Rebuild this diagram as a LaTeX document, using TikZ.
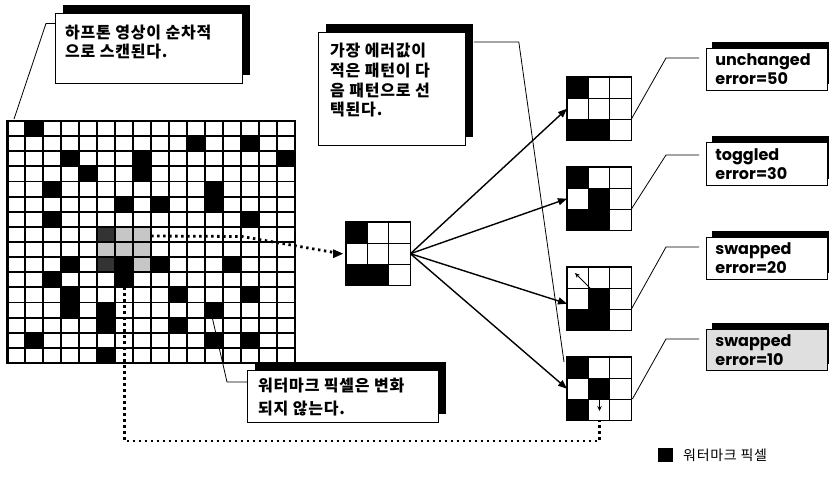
\documentclass[tikz,border=0pt]{standalone}
\usepackage{fontspec}
\usetikzlibrary{arrows.meta,shadows,calc}
\newfontfamily\krfont[LetterSpace=5]{Noto Sans CJK KR}
\newfontfamily\latfont{Poppins}
\newcommand\mygrid[2]{%
  \foreach \r/\c in {#2}{\fill ($(#1.north west)+({(\c-1)*64/3},{(\r-1)*21})$) rectangle ++({64/3},21);}
  \foreach \i in {1,2}{\draw[sgin] ($(#1.north west)+({\i*64/3},0)$) -- ++(0,63);
    \draw[sgin] ($(#1.north west)+(0,{\i*21})$) -- ++(64,0);}
  \draw[sgout] (#1.north west) rectangle (#1.south east);
}
\begin{document}
\begin{tikzpicture}[x=1pt,y=-1pt,
  gridln/.style={line width=1.8pt},
  gridout/.style={line width=2.8pt},
  sgin/.style={line width=0.9pt},
  sgout/.style={line width=1.3pt},
  sgrid/.style={rectangle,minimum width=64pt,minimum height=63pt,inner sep=0pt,anchor=north west},
  dotline/.style={line width=2.8pt,dash pattern=on 2.4pt off 3.6pt},
  fan/.style={line width=1.4pt,-{Triangle[length=9pt,width=7pt]}},
  lead/.style={line width=0.8pt},
  callout/.style={rectangle,draw=black,line width=0.8pt,fill=white,inner sep=0pt,anchor=north west,
    drop shadow={shadow xshift=8pt,shadow yshift=8pt,opacity=1,fill=black}},
  rcallout/.style={rectangle,draw=black,line width=0.8pt,fill=white,inner xsep=9pt,inner ysep=0pt,
    anchor=north west,minimum width=121pt,text width=103pt,align=left,
    font=\latfont\bfseries\fontsize{16}{19}\selectfont,
    drop shadow={shadow xshift=6pt,shadow yshift=6pt,opacity=1,fill=black}},
  krtext/.style={anchor=north west,inner sep=0pt,align=left},
]
\fill[white] (0,0) rectangle (829,477);
\useasboundingbox (0,0) rectangle (829,477);
\def\gx{7.3}\def\gy{121}\def\cw{17.98}\def\rh{15.125}
% highlight
\fill[gray!45] ({\gx+5*\cw},{\gy+7*\rh}) rectangle ({\gx+8*\cw},{\gy+10*\rh});
% black cells
\foreach \r/\c in {1/2,2/11,2/14,3/4,3/8,3/16,4/5,4/8,5/3,5/12,6/7,6/9,6/12,7/3,7/14,
  10/4,10/7,10/9,10/13,11/3,11/7,12/4,12/10,12/14,13/4,13/6,13/12,14/6,14/10,15/2,15/12,15/14,16/6}
  \fill ({\gx+(\c-1)*\cw},{\gy+(\r-1)*\rh}) rectangle ++(\cw,\rh);
\foreach \r/\c in {8/6,10/6}
  \fill[black!80] ({\gx+(\c-1)*\cw},{\gy+(\r-1)*\rh}) rectangle ++(\cw,\rh);
\foreach \i in {1,...,15}{
  \draw[gridln] ({\gx+\i*\cw},\gy) -- ++(0,{16*\rh});
  \draw[gridln] (\gx,{\gy+\i*\rh}) -- ++({16*\cw},0);}
\draw[gridout] (\gx,\gy) rectangle ++({16*\cw},{16*\rh});
\draw[dotline,line width=1.8pt] ({\gx+5*\cw},{\gy+7*\rh}) rectangle ({\gx+8*\cw},{\gy+10*\rh});

% small grids
\node[sgrid] (mg) at (346,222) {};
\node[sgrid] (g1) at (567,77) {};
\node[sgrid] (g2) at (567,167) {};
\node[sgrid] (g3) at (567,267) {};
\node[sgrid] (g4) at (567,357) {};
\mygrid{mg}{1/1,3/1,3/2}
\mygrid{g1}{1/1,3/1,3/2}
\mygrid{g2}{1/1,2/2,3/1,3/2}
\mygrid{g3}{2/2,3/1,3/2}
\mygrid{g4}{1/1,2/2,3/1}

% coordinates
\coordinate (hle) at ({\gx+8*\cw},236);
\coordinate (dbend) at (242,236.5);
\coordinate (wm) at ({\gx+6.5*\cw},{\gy+11*\rh});
\coordinate (dturn) at ({\gx+6.5*\cw},441);
\coordinate (gridnw) at (14,119);
\coordinate (wm2) at ({\gx+11.4*\cw},{\gy+13*\rh});
\coordinate (wm2bend) at (227,382);

% dotted connectors
\draw[dotline] (hle) -- (dbend) -- ([xshift=-5pt]mg.west);
\fill ([xshift=-3pt]mg.west) -- ++(-10,-4.5) -- ++(0,9) -- cycle;
\draw[dotline] (wm) -- (dturn) -| (g4.south);

% fan arrows
\draw[fan] (mg.east) -- (g1.west);
\draw[fan] (mg.east) -- (g2.west);
\draw[fan] (mg.east) -- ([yshift=-5pt]g3.west);
\draw[fan] (mg.east) -- (g4.west);

% inner arrows
\draw[line width=1pt,-{Stealth[length=5pt,width=4.5pt]}] ($(g3.north west)+(23,21)$) -- ($(g3.north west)+(8,6)$);
\draw[line width=1pt,-{Stealth[length=5pt,width=4.5pt]}] ($(g4.north west)+(32.5,41)$) -- ($(g4.north west)+(32.5,54)$);

% callouts
\node[callout,minimum width=187pt,minimum height=70pt] (b1) at (55,13) {};
\node[krtext,font=\krfont\bfseries\fontsize{16}{18.5}\selectfont] (t1) at (65,25) {하프톤 영상이 순차적\\으로 스캔된다.};
\node[callout,minimum width=147pt,minimum height=113pt] (b2) at (318,32) {};
\node[krtext,font=\krfont\bfseries\fontsize{16}{19.7}\selectfont] (t2) at (330,43) {가장 에러값이\\적은 패턴이 다\\음 패턴으로 선\\택된다.};
\node[callout,minimum width=191pt,minimum height=52pt] (bE) at (247,370) {};
\node[krtext,font=\krfont\bfseries\fontsize{16}{23}\selectfont] (tE) at (258,378) {워터마크 픽셀은 변화\\되지 않는다.};

\node[rcallout,minimum height=42pt] (bA) at (706,48) {unchanged\\error=50};
\node[rcallout,minimum height=43pt] (bB) at (706,142) {toggled\\error=30};
\node[rcallout,minimum height=42pt] (bC) at (706,237) {swapped\\error=20};
\node[rcallout,minimum height=41pt,fill=gray!25] (bD) at (706,329) {swapped\\error=10};

% leaders
\draw[lead] ($(b1.north west)+(0,10.5)$) -- ++(-9,0) -- (gridnw);
\draw[lead] ($(b2.north east)+(8,10)$) -- ++(45,0) -- ($(g4.north west)+(-3,5)$);
\draw[lead] (wm2) -- (wm2bend) -- ($(bE.north west)+(0,12)$);
\draw[lead,shorten <=7pt] ($(bA.north west)+(0,10)$) -- ++(-40,0) -- ($(g1.north east)+(0,42)$);
\draw[lead,shorten <=7pt] ($(bB.north west)+(0,13)$) -- ++(-40,0) -- ($(g2.north east)+(0,42)$);
\draw[lead,shorten <=7pt] ($(bC.north west)+(0,10)$) -- ++(-40,0) -- ($(g3.north east)+(0,42)$);
\draw[lead,shorten <=7pt] ($(bD.north west)+(0,10)$) -- ++(-40,0) -- ($(g4.north east)+(1,42)$);

% legend
\node[fill=black,minimum width=15pt,minimum height=14pt,inner sep=0pt,anchor=north west] (lg) at (658,448) {};
\node[anchor=west,inner sep=0pt,font=\krfont\fontsize{14}{16}\selectfont] (lgt) at (683,455) {워터마크 픽셀};
\end{tikzpicture}
\end{document}
